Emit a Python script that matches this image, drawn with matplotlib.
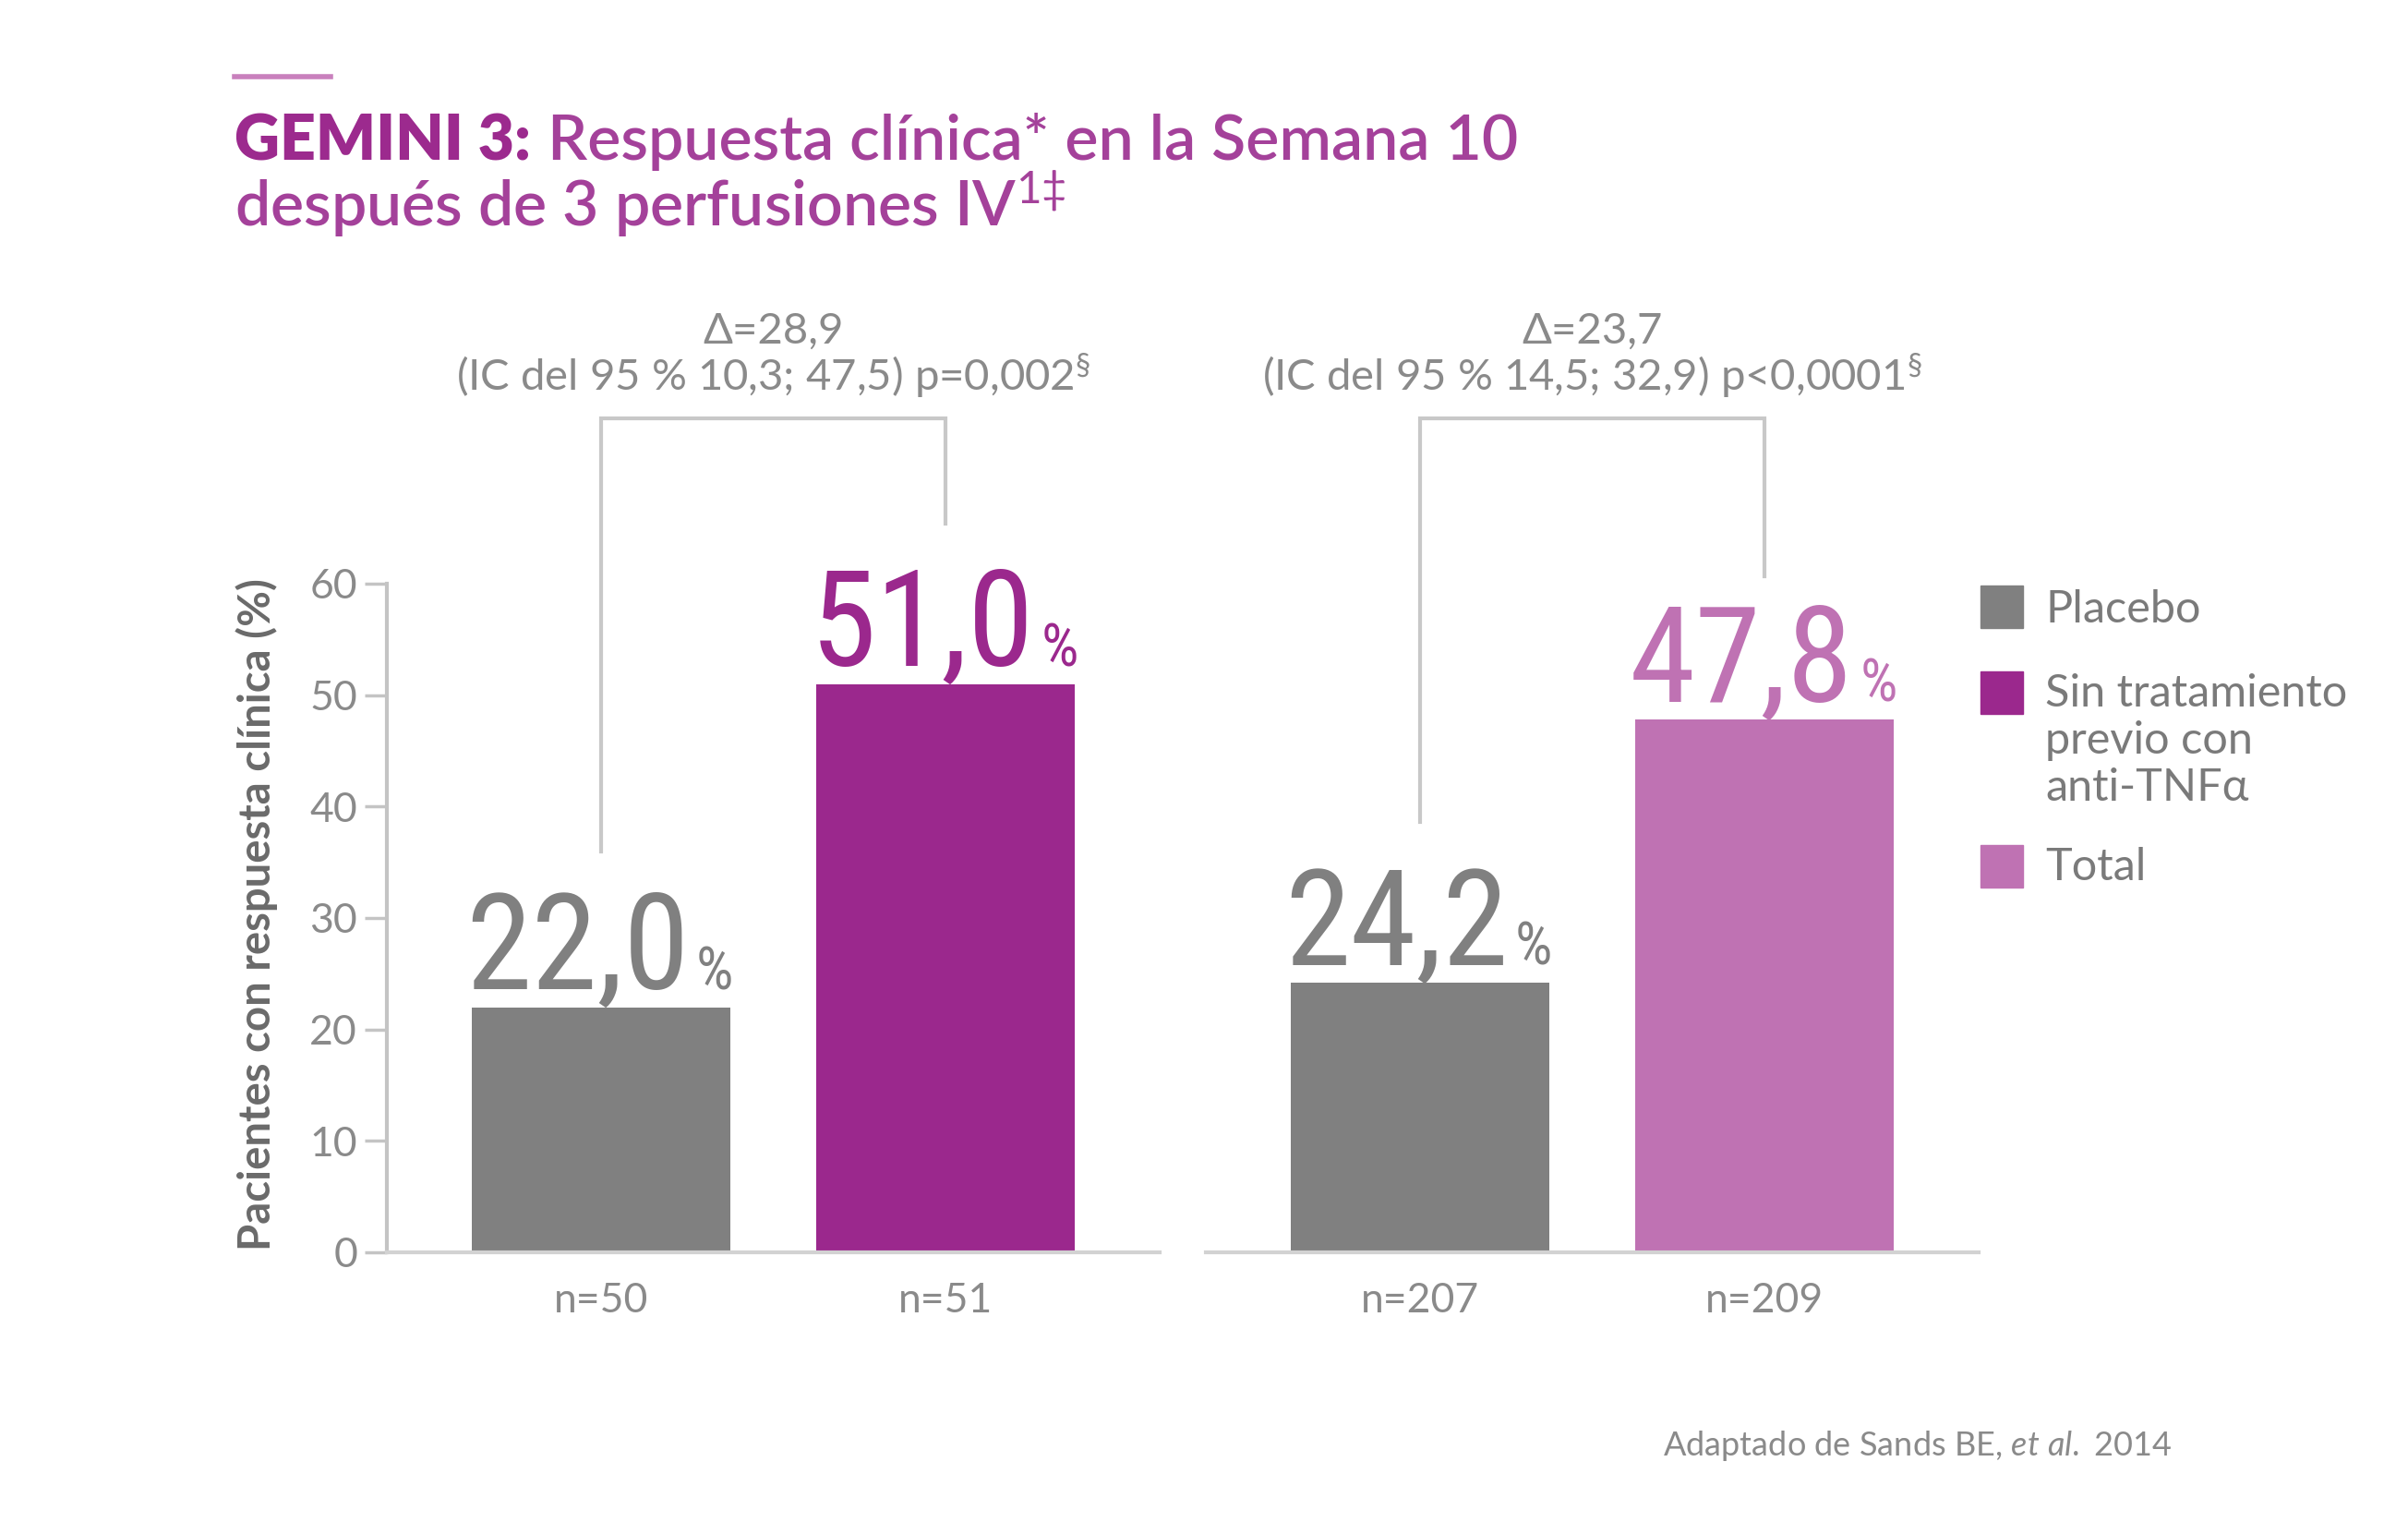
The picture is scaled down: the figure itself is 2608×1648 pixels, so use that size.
import matplotlib
matplotlib.use("Agg")
import matplotlib.pyplot as plt
from matplotlib import font_manager
from matplotlib.lines import Line2D
from matplotlib.patches import Rectangle

# pick a narrow face for the big numbers if one is installed
names = {f.name for f in font_manager.fontManager.ttflist}
NARROW = next((n for n in ['Roboto Condensed', 'Liberation Sans Narrow', 'Open Sans Condensed']
               if n in names), 'DejaVu Sans')

plt.rcParams['font.family'] = ['Lato', 'DejaVu Sans']
plt.rcParams['mathtext.fontset'] = 'custom'
plt.rcParams['mathtext.rm'] = 'Lato'
plt.rcParams['mathtext.it'] = 'Lato:italic'
plt.rcParams['mathtext.bf'] = 'Lato:bold'

# data
groups = ['Sin tratamiento previo con anti-TNFα', 'Total']
placebo = [22.0, 24.2]
vedo = [51.0, 47.8]
n_labels = [['n=50', 'n=51'], ['n=207', 'n=209']]
deltas = ['Δ=28,9', 'Δ=23,7']
ic_texts = [r'(IC del 95 % 10,3; 47,5) p=0,002$^{\S}$',
            r'(IC del 95 % 14,5; 32,9) p<0,0001$^{\S}$']
bracket_top = [74.8, 74.8]
bracket_ends = [(36.0, 65.4), (38.6, 60.7)]

GREY = '#808080'
PURPLE = '#9b288d'
PINK = '#bf72b3'
TXT = '#8a8a8a'
bar_colors = [PURPLE, PINK]

W, H = 2608, 1648
fig = plt.figure(figsize=(W / 100, H / 100), dpi=100)

ax_left = [419, 1306]
ax_w = 837
bottom = (H - 1356) / H
height = 90 * (724 / 60) / H

axes = []
for g in range(2):
    ax = fig.add_axes([ax_left[g] / W, bottom, ax_w / W, height])
    axes.append(ax)
    vals = [placebo[g], vedo[g]]
    cols = [GREY, bar_colors[g]]
    ax.bar([0, 1], vals, width=0.75, color=cols, zorder=2)
    ax.set_xlim(-0.62, 1.62)
    ax.set_ylim(0, 90)

    for s in ['top', 'right']:
        ax.spines[s].set_visible(False)
    ax.spines['bottom'].set_color('#d2d2d2')
    ax.spines['bottom'].set_linewidth(3)
    ax.set_xticks([0, 1], n_labels[g])
    ax.tick_params(axis='x', length=0, pad=23, labelsize=32, labelcolor=TXT)

    if g == 0:
        ax.spines['left'].set_bounds(0, 60)
        ax.spines['left'].set_color('#c4c4c4')
        ax.spines['left'].set_linewidth(3)
        ax.set_yticks(range(0, 61, 10))
        ax.tick_params(axis='y', length=17, width=2.5, color='#c4c4c4',
                       labelsize=32, labelcolor=TXT, pad=6)
    else:
        ax.spines['left'].set_visible(False)
        ax.set_yticks([])

    # big value labels with a small % sign
    for x, v, c in zip([0, 1], vals, cols):
        num = ax.annotate(f'{v:.1f}'.replace('.', ','), xy=(x, v), xytext=(-18, 14),
                          textcoords='offset points', ha='center', va='baseline',
                          fontsize=104, color=c, family=NARROW)
        ax.annotate('%', xy=(1, v), xycoords=(num, 'data'), xytext=(5, 14),
                    textcoords='offset points', ha='left', va='baseline',
                    fontsize=46, color=c, family=NARROW)

    # comparison bracket
    lo, hi = bracket_ends[g]
    top = bracket_top[g]
    ax.plot([0, 0, 1, 1], [lo, top, top, hi], color='#c8c8c8', lw=3,
            solid_joinstyle='miter', clip_on=False, zorder=1)
    ax.text(0.5, 80.4, deltas[g] + '\n' + ic_texts[g], ha='center', va='center',
            multialignment='center', fontsize=34, color=TXT, linespacing=1.0)

fig.text(278 / W, 1 - 990 / H, 'Pacientes con respuesta clínica (%)', rotation=90,
         ha='center', va='center', fontsize=34, fontweight='bold', color='#6a6a6a')

# title
fig.add_artist(Line2D([254 / W, 358 / W], [1 - 83 / H, 1 - 83 / H],
                      color='#c980bd', lw=4))
gem = fig.text(254 / W, 1 - 173 / H, 'GEMINI 3:', fontsize=49, fontweight='heavy',
               color='#9c2a8e', va='baseline')
plt.annotate('Respuesta clínica* en la Semana 10', xy=(1, 1 - 173 / H),
             xycoords=(gem, 'figure fraction'), xytext=(13, 0),
             textcoords='offset points', va='baseline', fontsize=49,
             fontweight='semibold', color='#a4419a')
fig.text(254 / W, 1 - 245 / H, r'después de 3 perfusiones IV$^{1\ddag}$', fontsize=49,
         fontweight='semibold', color='#a4419a', va='baseline')

# legend
leg_items = [('Placebo', GREY, 634, 660),
             ('Sin tratamiento\nprevio con\nanti-TNFα', PURPLE, 727, 729),
             ('Total', PINK, 915, 939)]
for label, col, sq_top, txt_y in leg_items:
    fig.add_artist(Rectangle((2145 / W, 1 - (sq_top + 46) / H), 46 / W, 46 / H,
                             color=col, transform=fig.transFigure))
    fig.text(2215 / W, 1 - txt_y / H, label, fontsize=35, color='#7a7a7a',
             va='top' if '\n' in label else 'center', linespacing=1.2)

fig.text(2352 / W, 1 - 1565 / H, r'Adaptado de Sands BE, $\it{et\ al.}$ 2014',
         ha='right', va='center', fontsize=26, color='#8a8a8a')

fig.savefig('out.png', dpi=100, facecolor='white')
